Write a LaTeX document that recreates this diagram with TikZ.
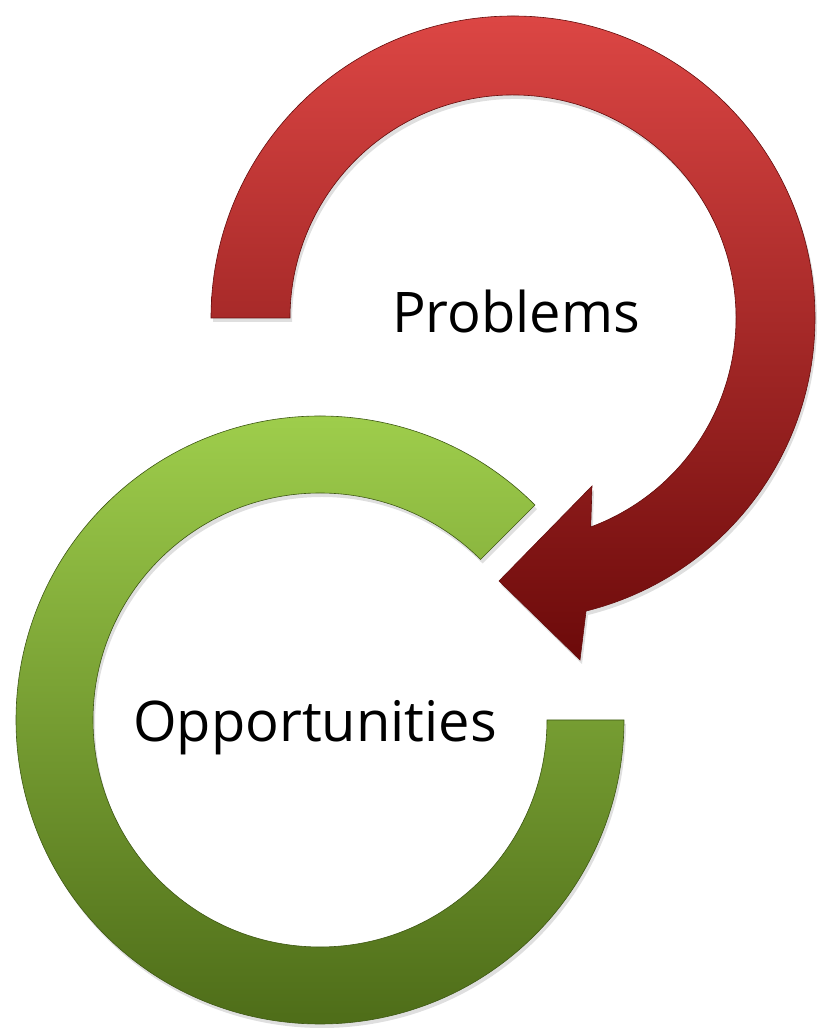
\documentclass[tikz,border=0pt]{standalone}
\usepackage{fontspec}
\setmainfont{Open Sans}
\usetikzlibrary{calc,shadows}

\definecolor{redtop}{RGB}{220,70,68}
\definecolor{redmid}{RGB}{178,32,32}
\definecolor{redbot}{RGB}{108,10,10}
\definecolor{redline}{RGB}{100,12,12}
\definecolor{greentop}{RGB}{162,210,78}
\definecolor{greenmid}{RGB}{110,150,40}
\definecolor{greenbot}{RGB}{74,104,22}
\definecolor{greenline}{RGB}{62,88,20}

\begin{document}
\begin{tikzpicture}[
		x=1pt, y=1pt,
		band/.style = {line width=.6pt, drop shadow={opacity=.25, shadow xshift=2pt, shadow yshift=-4pt}},
		redband/.style = {band, draw=redline, top color=redtop, middle color=redmid, bottom color=redbot},
		greenband/.style = {band, draw=greenline, top color=greentop, middle color=greenmid, bottom color=greenbot},
		word/.style = {inner sep=0pt, anchor=base west, font=\fontsize{56}{60}\selectfont}
	]
	\useasboundingbox (0,0) rectangle (817,1028);
	\coordinate (pc) at (513,710);
	\coordinate (oc) at (320,308);
	% Problems arrow.
	\path[redband] ($(pc)+(180:302)$) arc[start angle=180, end angle=-76, radius=302]
		-- (580,368) -- (499,447) -- (592,542)
		-- ($(pc)+(-69.6:223)$) arc[start angle=-69.6, end angle=180, radius=223] -- cycle;
	% Opportunities ring.
	\path[greenband] ($(oc)+(45:304)$) arc[start angle=45, end angle=360, radius=304]
		-- ($(oc)+(0:227)$) arc[start angle=360, end angle=45, radius=227] -- cycle;
	% Labels.
	\node[word] (problems) at (392,695) {Problems};
	\node[word] (opportunities) at (133,286) {Opportunities};
\end{tikzpicture}
\end{document}
